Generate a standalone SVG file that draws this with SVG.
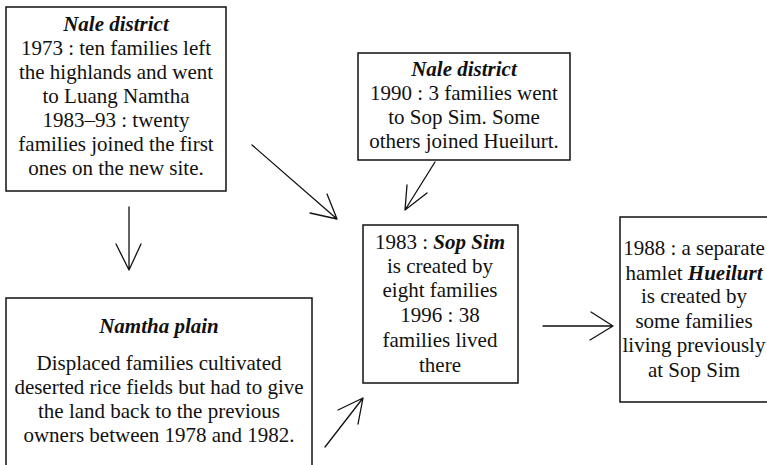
<svg xmlns="http://www.w3.org/2000/svg" width="767" height="465" viewBox="0 0 767 465">
<style>
.box{fill:#fff;stroke:#111;stroke-width:1.5}
text{font-family:"Liberation Serif","Times New Roman",serif;font-size:21px;fill:#111;text-anchor:middle}
.bi{font-weight:bold;font-style:italic}
.arr{fill:none;stroke:#111;stroke-width:1.3;stroke-linecap:round;stroke-linejoin:round}
</style>
<rect width="767" height="465" fill="#fff"/>
<g id="nale1">
<rect class="box" x="6" y="7" width="220" height="184"/>
<text x="116" y="31" class="bi">Nale district</text>
<text x="116" y="55">1973 : ten families left</text>
<text x="116" y="79">the highlands and went</text>
<text x="116" y="103">to Luang Namtha</text>
<text x="116" y="127">1983–93 : twenty</text>
<text x="116" y="151">families joined the first</text>
<text x="116" y="175">ones on the new site.</text>
</g>
<g id="nale2">
<rect class="box" x="358" y="53" width="212" height="107"/>
<text x="464" y="76" class="bi">Nale district</text>
<text x="464" y="100">1990 : 3 families went</text>
<text x="464" y="124">to Sop Sim. Some</text>
<text x="464" y="148">others joined Hueilurt.</text>
</g>
<g id="sopsim">
<rect class="box" x="363" y="225" width="155" height="158"/>
<text x="440" y="249">1983 : <tspan class="bi">Sop Sim</tspan></text>
<text x="440" y="273">is created by</text>
<text x="440" y="297">eight families</text>
<text x="440" y="322">1996 : 38</text>
<text x="440" y="347">families lived</text>
<text x="440" y="372">there</text>
</g>
<g id="hueilurt">
<rect class="box" x="620" y="217" width="160" height="185"/>
<text x="694" y="255">1988 : a separate</text>
<text x="694" y="280">hamlet <tspan class="bi">Hueilurt</tspan></text>
<text x="694" y="303">is created by</text>
<text x="694" y="328">some families</text>
<text x="694" y="352">living previously</text>
<text x="694" y="377">at Sop Sim</text>
</g>
<g id="namtha">
<rect class="box" x="6" y="298" width="306" height="180"/>
<text x="159" y="333" class="bi">Namtha plain</text>
<text x="159" y="370">Displaced families cultivated</text>
<text x="159" y="394">deserted rice fields but had to give</text>
<text x="159" y="418">the land back to the previous</text>
<text x="159" y="442">owners between 1978 and 1982.</text>
</g>
<g id="connectors">
<path class="arr" d="M252,145 L337,219 M327,194 L337,219 L310,213"/>
<path class="arr" d="M129,207 L129,270 M116,244 L129,270 L141,244"/>
<path class="arr" d="M325,447 L363,398 M338,410 L363,398 L358,424"/>
<path class="arr" d="M543,326 L613,326 M591,312 L613,326 L590,340"/>
<path class="arr" d="M435,162 L405,210 M407,185 L405,210 L427,193"/>
</g>
</svg>
